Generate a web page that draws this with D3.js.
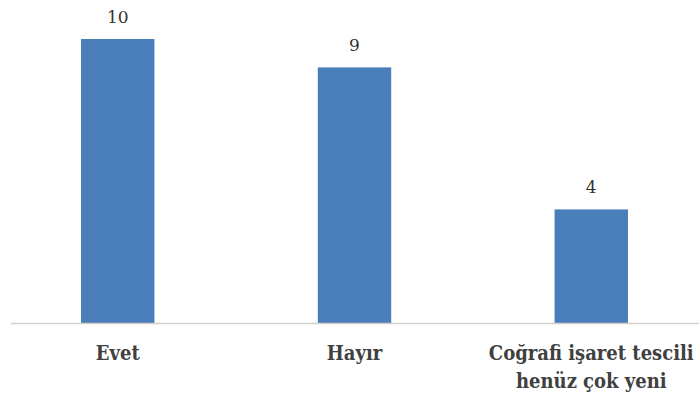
<!DOCTYPE html>
<html>
<head>
<meta charset="utf-8">
<script src="https://cdn.jsdelivr.net/npm/d3@7"></script>
<style>
  body { margin: 0; background: #fff; }
  svg { display: block; }
  .lbl { font-family: "DejaVu Serif", "Liberation Serif", serif; }
  .cat { font-stretch: condensed; }
</style>
</head>
<body>
<div id="chart"></div>
<script>
var categories = ["Evet", "Hayır", "Coğrafi işaret tescili henüz çok yeni"];
var labelLines = [["Evet"], ["Hayır"], ["Coğrafi işaret tescili", "henüz çok yeni"]];
var values = [10, 9, 4];

var width = 699, height = 397;
var baseline = 323;

var svg = d3.select("#chart").append("svg")
    .attr("width", width)
    .attr("height", height);

var x = d3.scaleBand()
    .domain(categories)
    .range([10, 699])
    .paddingInner(0.69)
    .paddingOuter(0.3);

var y = d3.scaleLinear()
    .domain([0, 10])
    .range([baseline, 39]);

// bars
svg.selectAll(".bar")
    .data(values)
    .enter().append("rect")
    .attr("class", "bar")
    .attr("x", function (d, i) { return x(categories[i]); })
    .attr("y", function (d) { return y(d); })
    .attr("width", x.bandwidth())
    .attr("height", function (d) { return baseline - y(d); })
    .style("fill", "#4a7ebb");

// value labels
svg.selectAll(".val")
    .data(values)
    .enter().append("text")
    .attr("class", "val lbl")
    .attr("x", function (d, i) { return x(categories[i]) + x.bandwidth() / 2; })
    .attr("y", function (d) { return y(d) - 16; })
    .attr("text-anchor", "middle")
    .style("font-size", "17px")
    .style("fill", "#333")
    .text(function (d) { return d; });

// x axis
var axis = svg.append("g")
    .attr("transform", "translate(0," + baseline + ")")
    .call(d3.axisBottom(x).tickSize(0).tickSizeOuter(0).tickPadding(0));

axis.attr("font-family", null);

axis.select(".domain")
    .attr("stroke", "#d3d0cc")
    .attr("stroke-width", 1.5);

axis.selectAll(".tick text").remove();
axis.selectAll(".tick").each(function (d, i) {
    var t = d3.select(this).append("text")
        .attr("class", "lbl cat")
        .attr("text-anchor", "middle")
        .attr("y", 37)
        .style("font-weight", "bold")
        .style("font-size", "20px")
        .style("fill", "#404040");
    labelLines[i].forEach(function (line, j) {
        t.append("tspan")
            .attr("x", 0)
            .attr("dy", j === 0 ? 0 : 28)
            .text(line);
    });
});
</script>
</body>
</html>
